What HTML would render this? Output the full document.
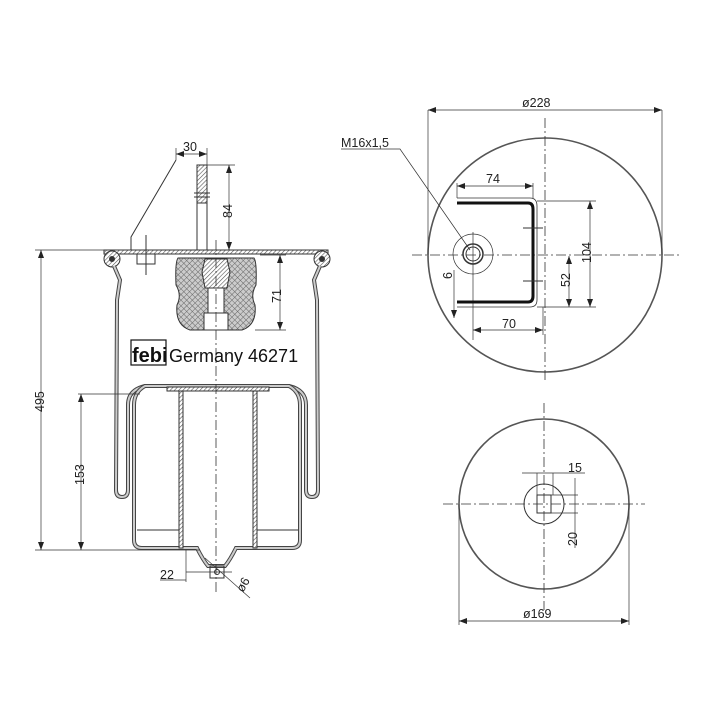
<!DOCTYPE html>
<html><head><meta charset="utf-8"><style>
html,body{margin:0;padding:0;background:#fff}
svg{display:block}
text{font-family:"Liberation Sans",sans-serif;fill:#222}
</style></head><body>
<svg width="720" height="720" viewBox="0 0 720 720" xmlns="http://www.w3.org/2000/svg">
<defs>
<pattern id="h" width="3" height="3" patternUnits="userSpaceOnUse" patternTransform="rotate(45)">
<rect width="3" height="3" fill="#fff"/><line x1="0" y1="0" x2="0" y2="3" stroke="#555" stroke-width="1.2"/>
</pattern>
<pattern id="x" width="4" height="4" patternUnits="userSpaceOnUse" patternTransform="rotate(45)">
<rect width="4" height="4" fill="#ccc"/><line x1="0" y1="0" x2="0" y2="4" stroke="#666" stroke-width="1"/><line x1="0" y1="0" x2="4" y2="0" stroke="#666" stroke-width="1"/>
</pattern>
<marker id="a" markerWidth="8" markerHeight="6" refX="8" refY="3" orient="auto-start-reverse" markerUnits="userSpaceOnUse"><path d="M0,0 L8,3 L0,6z" fill="#222"/></marker>
</defs>
<g fill="none" stroke="#333" stroke-width="1">
<path d="M104,250 L328,250 L328,254 L104,254 Z" fill="url(#h)"/>
<circle cx="112" cy="259" r="8" fill="url(#h)"/>
<circle cx="322" cy="259" r="8" fill="url(#h)"/>
<circle cx="112" cy="259" r="2.5" fill="#333"/><circle cx="322" cy="259" r="2.5" fill="#333"/>
<path d="M114,266 L120,280 L117,300 L116,490 Q116,497 122,497 Q128,497 128,490 L128,405 Q128,390 145,386" stroke-width="4" stroke="#444"/>
<path d="M114,266 L120,280 L117,300 L116,490 Q116,497 122,497 Q128,497 128,490 L128,405 Q128,390 145,386" stroke-width="2" stroke="#ccc"/>
<path d="M320,266 L314,280 L317,300 L318,490 Q318,497 312,497 Q306,497 306,490 L306,405 Q306,390 289,386" stroke-width="4" stroke="#444"/>
<path d="M320,266 L314,280 L317,300 L318,490 Q318,497 312,497 Q306,497 306,490 L306,405 Q306,390 289,386" stroke-width="2" stroke="#ccc"/>
<rect x="137" y="254" width="18" height="10"/>
<line x1="146" y1="235" x2="146" y2="275"/>
<path d="M176,160 L131,237 L131,250"/>
<rect x="197" y="165" width="10" height="38" fill="url(#h)"/>
<line x1="197" y1="203" x2="197" y2="250"/><line x1="207" y1="203" x2="207" y2="250"/>
<line x1="194" y1="193" x2="210" y2="193"/><line x1="194" y1="197" x2="210" y2="197"/>
<path d="M178,258 Q175,262 176,285 Q182,295 177,305 Q175,325 190,330 L242,330 Q257,325 255,305 Q250,295 256,285 Q257,262 254,258 Z" fill="url(#x)"/>
<rect x="204" y="313" width="24" height="17" fill="#fff"/>
<path d="M205,259 L227,259 L230,272 L227,288 L205,288 L202,272 Z" fill="url(#h)"/>
<rect x="208" y="288" width="16" height="25" fill="#fff" stroke="#333"/>
<path d="M145,386 L289,386 Q300,392 300,405 L300,540 Q300,548 292,548 L236,548 Q230,560 225,566 L208,566 Q203,560 197,548 L142,548 Q134,548 134,540 L134,405 Q134,392 145,386 Z" stroke="#444" stroke-width="4"/>
<path d="M145,386 L289,386 Q300,392 300,405 L300,540 Q300,548 292,548 L236,548 Q230,560 225,566 L208,566 Q203,560 197,548 L142,548 Q134,548 134,540 L134,405 Q134,392 145,386 Z" stroke="#ccc" stroke-width="2"/>
<rect x="167" y="387" width="102" height="4" fill="url(#h)"/>
<rect x="179" y="391" width="4" height="157" fill="url(#h)"/>
<rect x="253" y="391" width="4" height="157" fill="url(#h)"/>
<line x1="137" y1="530" x2="179" y2="530"/><line x1="257" y1="530" x2="298" y2="530"/>
<rect x="210" y="566" width="14" height="12"/>
<circle cx="217" cy="572" r="2.5"/>
<line x1="216" y1="240" x2="216" y2="595" stroke-dasharray="10,3,2,3" stroke-width="0.8"/>
<line x1="176" y1="148" x2="176" y2="160" stroke-width="0.7"/><line x1="207" y1="148" x2="207" y2="165" stroke-width="0.7"/>
<line x1="176" y1="154" x2="207" y2="154" marker-start="url(#a)" marker-end="url(#a)" stroke-width="0.7"/>
<line x1="207" y1="165" x2="235" y2="165" stroke-width="0.7"/>
<line x1="229" y1="165" x2="229" y2="250" marker-start="url(#a)" marker-end="url(#a)" stroke-width="0.7"/>
<line x1="260" y1="255" x2="286" y2="255" stroke-width="0.7"/><line x1="255" y1="330" x2="286" y2="330" stroke-width="0.7"/>
<line x1="280" y1="255" x2="280" y2="330" marker-start="url(#a)" marker-end="url(#a)" stroke-width="0.7"/>
<line x1="35" y1="250" x2="104" y2="250" stroke-width="0.7"/><line x1="35" y1="550" x2="200" y2="550" stroke-width="0.7"/>
<line x1="41" y1="250" x2="41" y2="550" marker-start="url(#a)" marker-end="url(#a)" stroke-width="0.7"/>
<line x1="78" y1="394" x2="140" y2="394" stroke-width="0.7"/>
<line x1="81" y1="394" x2="81" y2="550" marker-start="url(#a)" marker-end="url(#a)" stroke-width="0.7"/>
<line x1="186" y1="550" x2="186" y2="582" stroke-width="0.7"/>
<line x1="186" y1="572" x2="232" y2="572" stroke-width="0.7"/>
<line x1="160" y1="580" x2="186" y2="580" stroke-width="0.7"/>
<line x1="205" y1="558" x2="250" y2="598" stroke-width="0.7"/>
<circle cx="545" cy="255" r="117" stroke="#555" stroke-width="1.6"/>
<line x1="428" y1="110" x2="428" y2="255" stroke-width="0.7"/><line x1="662" y1="110" x2="662" y2="255" stroke-width="0.7"/>
<line x1="428" y1="110" x2="662" y2="110" marker-start="url(#a)" marker-end="url(#a)" stroke-width="0.7"/>
<line x1="412" y1="255" x2="680" y2="255" stroke-dasharray="10,3,2,3" stroke-width="0.8"/>
<line x1="545" y1="118" x2="545" y2="380" stroke-dasharray="10,3,2,3" stroke-width="0.8"/>
<circle cx="473" cy="254" r="20" stroke-width="0.7"/>
<circle cx="473" cy="254" r="10" stroke-width="1.5"/><circle cx="473" cy="254" r="7"/>
<line x1="473" y1="232" x2="473" y2="340" stroke-width="0.7"/>
<path d="M341,149 L400,149 L470,250" stroke-width="0.7"/>
<path d="M457,203 L528,203 Q533,203 533,209 L533,296 Q533,302 528,302 L457,302" stroke="#111" stroke-width="3"/>
<path d="M457,198 L530,198 Q537,198 537,206 L537,300 Q537,307 530,307 L457,307" stroke-width="0.8"/>
<line x1="523" y1="228" x2="543" y2="228"/><line x1="523" y1="281" x2="543" y2="281"/>
<line x1="457" y1="183" x2="457" y2="198" stroke-width="0.7"/><line x1="533" y1="183" x2="533" y2="198" stroke-width="0.7"/>
<line x1="457" y1="186" x2="533" y2="186" marker-start="url(#a)" marker-end="url(#a)" stroke-width="0.7"/>
<line x1="537" y1="201" x2="596" y2="201" stroke-width="0.7"/><line x1="537" y1="307" x2="596" y2="307" stroke-width="0.7"/>
<line x1="590" y1="201" x2="590" y2="307" marker-start="url(#a)" marker-end="url(#a)" stroke-width="0.7"/>
<line x1="569" y1="256" x2="569" y2="307" marker-start="url(#a)" marker-end="url(#a)" stroke-width="0.7"/>
<line x1="543" y1="307" x2="543" y2="335" stroke-width="0.7"/>
<line x1="473" y1="330" x2="543" y2="330" marker-start="url(#a)" marker-end="url(#a)" stroke-width="0.7"/>
<line x1="454" y1="270" x2="454" y2="318" stroke-width="0.7" marker-end="url(#a)"/>
<circle cx="544" cy="504" r="85" stroke="#555" stroke-width="1.6"/>
<line x1="443" y1="504" x2="645" y2="504" stroke-dasharray="10,3,2,3" stroke-width="0.8"/>
<line x1="544" y1="403" x2="544" y2="610" stroke-dasharray="10,3,2,3" stroke-width="0.8"/>
<circle cx="544" cy="504" r="20"/>
<rect x="537" y="495" width="14" height="18"/>
<line x1="537" y1="473" x2="537" y2="495" stroke-width="0.7"/><line x1="553" y1="473" x2="553" y2="495" stroke-width="0.7"/>
<line x1="522" y1="473" x2="585" y2="473" stroke-width="0.7"/>
<line x1="551" y1="495" x2="578" y2="495" stroke-width="0.7"/><line x1="551" y1="513" x2="578" y2="513" stroke-width="0.7"/>
<line x1="575" y1="478" x2="575" y2="548" stroke-width="0.7"/>
<line x1="459" y1="504" x2="459" y2="625" stroke-width="0.7"/><line x1="629" y1="504" x2="629" y2="625" stroke-width="0.7"/>
<line x1="459" y1="621" x2="629" y2="621" marker-start="url(#a)" marker-end="url(#a)" stroke-width="0.7"/>
</g>
<g font-size="12.5">
<text x="183" y="151">30</text>
<text x="222" y="218" transform="rotate(-90 227 213)">84</text>
<text x="270" y="300" transform="rotate(-90 277 296)">71</text>
<text x="31" y="411" transform="rotate(-90 38 405)">495</text>
<text x="71" y="484" transform="rotate(-90 78 478)">153</text>
<text x="160" y="579">22</text>
<text x="236" y="589" transform="rotate(-60 243 585)">ø6</text>
<text x="522" y="107">ø228</text>
<text x="341" y="147">M16x1,5</text>
<text x="486" y="183">74</text>
<text x="578" y="258" transform="rotate(-90 587 254)">104</text>
<text x="560" y="285" transform="rotate(-90 566 281)">52</text>
<text x="502" y="328">70</text>
<text x="444" y="279" transform="rotate(-90 448 275)">6</text>
<text x="568" y="472">15</text>
<text x="567" y="544" transform="rotate(-90 573 540)">20</text>
<text x="523" y="618">ø169</text>
</g>
<text x="132" y="362" font-size="20" font-weight="bold" style="fill:#111">febi</text>
<rect x="131" y="340" width="35" height="25" fill="none" stroke="#111" stroke-width="1.2"/>
<text x="169" y="362" font-size="18" style="fill:#111">Germany 46271</text>
</svg>
</body></html>
